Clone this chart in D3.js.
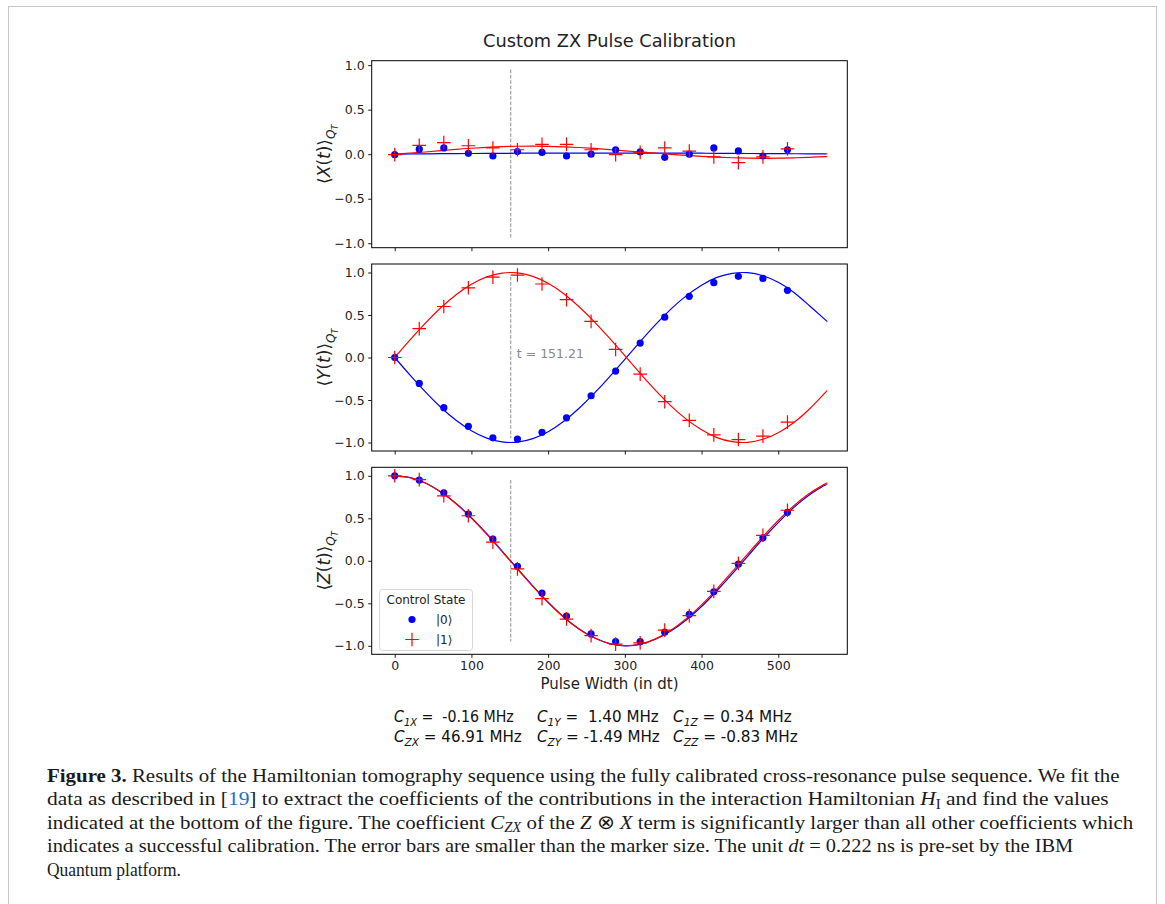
<!DOCTYPE html>
<html><head><meta charset="utf-8">
<script src="https://cdn.jsdelivr.net/npm/d3@7"></script>
<style>
html,body{margin:0;padding:0;background:#fff;}
svg{display:block;}
text{white-space:pre;}
</style></head>
<body>
<svg id="chart" width="1165" height="904"></svg>
<script>
// ---------------- data ----------------
const tPoints = [0,32,64,96,128,160,192,224,256,288,320,352,384,416,448,480,512];
const xBlue = [-0.005,0.056,0.07,0.01,-0.02,0.03,0.02,-0.02,0.0,0.05,0.025,-0.035,0.0,0.07,0.037,-0.02,0.05];
const xRed  = [-0.005,0.10,0.13,0.095,0.07,0.05,0.11,0.11,0.05,-0.005,0.02,0.07,0.035,-0.03,-0.095,-0.03,0.06];
const yBlue = [0.0,-0.305,-0.59,-0.81,-0.945,-0.96,-0.88,-0.71,-0.45,-0.16,0.17,0.475,0.72,0.88,0.955,0.93,0.79];
const yRed  = [0.0,0.34,0.60,0.82,0.945,0.97,0.865,0.68,0.425,0.095,-0.195,-0.52,-0.74,-0.91,-0.965,-0.925,-0.76];
const zBlue = [1.0,0.95,0.80,0.55,0.255,-0.065,-0.38,-0.65,-0.86,-0.95,-0.95,-0.84,-0.63,-0.365,-0.04,0.27,0.57];
const zRed  = [1.0,0.955,0.765,0.53,0.22,-0.095,-0.445,-0.685,-0.88,-0.98,-0.965,-0.815,-0.645,-0.36,-0.03,0.30,0.595];

const tFit = [0,20,40,60,80,100,120,140,160,180,200,220,240,260,280,300,320,340,360,380,400,420,440,460,480,500,520,540,560,563];
const xFitBlue = [0,0.002,0.004,0.006,0.007,0.008,0.009,0.010,0.011,0.012,0.012,0.013,0.013,0.013,0.013,0.013,0.013,0.012,0.012,0.011,0.011,0.010,0.009,0.008,0.007,0.006,0.005,0.004,0.003,0.003];
const xFitRed  = [0,0.012,0.025,0.040,0.055,0.067,0.077,0.085,0.089,0.090,0.088,0.083,0.075,0.065,0.052,0.038,0.025,0.012,-0.001,-0.013,-0.024,-0.033,-0.040,-0.044,-0.046,-0.045,-0.041,-0.035,-0.028,-0.027];
const yFitBlue = [0,-0.207,-0.404,-0.585,-0.739,-0.862,-0.948,-0.993,-0.996,-0.955,-0.873,-0.753,-0.600,-0.423,-0.227,-0.021,0.186,0.386,0.569,0.725,0.851,0.942,0.990,0.998,0.962,0.885,0.768,0.615,0.455,0.43];
const yFitRed  = [0,0.207,0.404,0.585,0.739,0.862,0.948,0.993,0.996,0.955,0.873,0.753,0.600,0.423,0.227,0.021,-0.186,-0.386,-0.569,-0.725,-0.851,-0.942,-0.990,-0.998,-0.962,-0.885,-0.768,-0.612,-0.425,-0.395];
const zFitBlue = [1,0.978,0.915,0.811,0.674,0.507,0.318,0.114,-0.093,-0.295,-0.488,-0.658,-0.800,-0.906,-0.974,-1.000,-0.983,-0.923,-0.826,-0.696,-0.538,-0.352,-0.153,0.052,0.258,0.450,0.625,0.772,0.885,0.900];
const zFitRed  = [1,0.978,0.915,0.810,0.672,0.503,0.313,0.108,-0.099,-0.300,-0.492,-0.661,-0.801,-0.906,-0.973,-0.999,-0.980,-0.918,-0.816,-0.680,-0.518,-0.330,-0.128,0.078,0.283,0.474,0.645,0.789,0.899,0.914];

const xTicks = [0,100,200,300,400,500];
const yTicks = [-1.0,-0.5,0.0,0.5,1.0];
const tMark = 151.21;
const panelLetters = ["X","Y","Z"];
const panelYLim = [[-1.05,1.05],[-1.1,1.1],[-1.1,1.1]];
const legendLabels = ["|0\u27E9","|1\u27E9"];
const coefNames = [["1X","1Y","1Z"],["ZX","ZY","ZZ"]];
const coefValues = [["=  -0.16 MHz","=  1.40 MHz","= 0.34 MHz"],["= 46.91 MHz","= -1.49 MHz","= -0.83 MHz"]];

// ---------------- layout ----------------
const svg = d3.select("#chart");
svg.append("rect").attr("x",0).attr("y",0).attr("width",1165).attr("height",904).attr("fill","#fff");
svg.append("rect").attr("x",8.5).attr("y",6.5).attr("width",1148).attr("height",920)
  .attr("fill","none").attr("stroke","#c8c8c8").attr("stroke-width",1);

const L = 371.7, R = 847.3, panelH = 187, panelTops = [60.7, 264.0, 467.3];
const FONT = "DejaVu Sans";
const x = d3.scaleLinear().domain([-30,590]).range([L,R]);

const panels = [
  {pts:[xBlue,xRed], fit:[xFitBlue,xFitRed]},
  {pts:[yBlue,yRed], fit:[yFitBlue,yFitRed]},
  {pts:[zBlue,zRed], fit:[zFitBlue,zFitRed]}
];
const colors = ["#0000ff","#ff0000"];

function rich(textSel, runs, base, subShift){
  const sh = subShift===undefined ? 0.28 : subShift;
  let off = 0;
  runs.forEach(r=>{
    const ts = textSel.append("tspan").text(r.t);
    let target = 0, size = base;
    if (r.sub===1){ target = base*sh; size = base*0.7; }
    if (r.sub===2){ target = base*(sh+0.17); size = base*0.5; }
    if (target!==off){ ts.attr("dy", target-off); off = target; }
    if (size!==base) ts.attr("font-size", size);
    if (r.i) ts.attr("font-style","italic");
    if (r.b) ts.attr("font-weight","bold");
    if (r.c) ts.attr("fill", r.c);
  });
}
function fitWidth(g, textNode, x0, x1, y0){
  const bw = textNode.getBBox().width;
  g.attr("transform",`translate(${x0},${y0}) scale(${(x1-x0)/bw},1)`);
}

panels.forEach((p,pi)=>{
  const top = panelTops[pi];
  const y = d3.scaleLinear().domain(panelYLim[pi]).range([top+panelH, top]);
  const g = svg.append("g");
  const clipId = "clip"+pi;
  svg.append("clipPath").attr("id",clipId).append("rect")
    .attr("x",L).attr("y",top).attr("width",R-L).attr("height",panelH);

  const yAxis = d3.axisLeft(y).tickValues(yTicks).tickSize(3.5).tickPadding(3.5)
    .tickFormat(d=>d3.format(".1f")(d).replace("-","\u2212"));
  const ya = g.append("g").attr("transform",`translate(${L},0)`).call(yAxis);
  const xAxis = d3.axisBottom(x).tickValues(xTicks).tickSize(3.5).tickPadding(3.5)
    .tickFormat(pi===2 ? d3.format("d") : ()=> "");
  const xa = g.append("g").attr("transform",`translate(0,${top+panelH})`).call(xAxis);
  [ya,xa].forEach(a=>{
    a.select(".domain").remove();
    a.selectAll("line").attr("stroke","#000").attr("stroke-width",0.9);
    a.selectAll("text").attr("font-family",FONT).attr("font-size",12.5).attr("fill","#222");
  });

  const plot = g.append("g").attr("clip-path",`url(#${clipId})`);
  plot.append("line").attr("x1",x(tMark)).attr("x2",x(tMark))
    .attr("y1",y(0.95)).attr("y2",y(-0.95))
    .attr("stroke","#999").attr("stroke-width",1.1).attr("stroke-dasharray","3.7,1.6");

  const line = d3.line().x((d,i)=>x(tFit[i])).y(d=>y(d)).curve(d3.curveNatural);
  p.fit.forEach((arr,si)=>{
    plot.append("path").attr("d",line(arr)).attr("fill","none")
      .attr("stroke",colors[si]).attr("stroke-width",1.2);
  });
  plot.selectAll(null).data(p.pts[0]).join("circle")
    .attr("cx",(d,i)=>x(tPoints[i])).attr("cy",d=>y(d)).attr("r",3.6).attr("fill",colors[0]);
  const s = 6.8;
  plot.selectAll(null).data(p.pts[1]).join("path")
    .attr("d",(d,i)=>{const cx=x(tPoints[i]), cy=y(d);
      return `M${cx-s},${cy}H${cx+s}M${cx},${cy-s}V${cy+s}`;})
    .attr("stroke",colors[1]).attr("stroke-width",1.2).attr("fill","none");

  g.append("rect").attr("x",L).attr("y",top).attr("width",R-L).attr("height",panelH)
    .attr("fill","none").attr("stroke","#000").attr("stroke-width",1);

  const yl = g.append("text").attr("transform",`translate(330,${top+panelH/2}) rotate(-90)`)
    .attr("text-anchor","middle").attr("font-family",FONT).attr("font-size",17).attr("fill","#222");
  rich(yl,[{t:"\u27E8"},{t:panelLetters[pi],i:true},{t:"("},{t:"t",i:true},{t:")\u27E9"},{t:"Q",i:true,sub:1},{t:"T",i:true,sub:2}],17);

  if (pi===1){
    plot.append("text").attr("x",x(tMark+8)).attr("y",y(0)).attr("font-family",FONT)
      .attr("font-size",12.5).attr("fill","#888").text("t = " + tMark.toFixed(2));
  }
  if (pi===2){
    const lg = g.append("g");
    lg.append("rect").attr("x",379.5).attr("y",589.5).attr("width",93).attr("height",61)
      .attr("rx",3).attr("fill","#fff").attr("fill-opacity",0.8).attr("stroke","#d6d6d6").attr("stroke-width",1);
    lg.append("text").attr("x",426).attr("y",604).attr("text-anchor","middle")
      .attr("font-family",FONT).attr("font-size",12).attr("fill","#222").text("Control State");
    lg.append("circle").attr("cx",412).attr("cy",619.5).attr("r",3.6).attr("fill",colors[0]);
    lg.append("path").attr("d",`M${412-s},639.5H${412+s}M412,${639.5-s}V${639.5+s}`)
      .attr("stroke",colors[1]).attr("stroke-width",1.2);
    legendLabels.forEach((lab,i)=>{
      lg.append("text").attr("x",436).attr("y",624+i*20).attr("font-family",FONT)
        .attr("font-size",12).attr("fill","#222").text(lab);
    });
  }
});

svg.append("text").attr("x",(L+R)/2).attr("y",47).attr("text-anchor","middle")
  .attr("font-family",FONT).attr("font-size",17.8).attr("fill","#222").text("Custom ZX Pulse Calibration");
svg.append("text").attr("x",(L+R)/2).attr("y",689).attr("text-anchor","middle")
  .attr("font-family",FONT).attr("font-size",15).attr("fill","#222").text("Pulse Width (in dt)");

// coefficient lines
const coefSpans = [[[394,514],[537,659],[673,792]],[[394,522],[537,660],[673,798]]];
coefNames.forEach((row,ri)=>{
  row.forEach((nm,ci)=>{
    const gg = svg.append("g");
    const t = gg.append("text").attr("x",0).attr("y",0)
      .attr("font-family",FONT).attr("font-size",15).attr("fill","#111");
    rich(t,[{t:"C",i:true},{t:nm,i:true,sub:1},{t:" "+coefValues[ri][ci]}],15);
    fitWidth(gg, t.node(), coefSpans[ri][ci][0], coefSpans[ri][ci][1], 722+ri*20);
  });
});

// caption
const blue = "#1a75c2";
const capLines = [
  {w:1120, runs:[{t:"Figure 3.",b:true},{t:" Results of the Hamiltonian tomography sequence using the fully calibrated cross-resonance pulse sequence. We fit the"}]},
  {w:1109, runs:[{t:"data as described in ["},{t:"19",c:blue},{t:"] to extract the coefficients of the contributions in the interaction Hamiltonian "},{t:"H",i:true},{t:"I",sub:1},{t:" and find the values"}]},
  {w:1135, runs:[{t:"indicated at the bottom of the figure. The coefficient "},{t:"C",i:true},{t:"ZX",i:true,sub:1},{t:" of the "},{t:"Z",i:true},{t:" \u2297 "},{t:"X",i:true},{t:" term is significantly larger than all other coefficients which"}]},
  {w:1074, runs:[{t:"indicates a successful calibration. The error bars are smaller than the marker size. The unit "},{t:"dt",i:true},{t:" = 0.222 ns is pre-set by the IBM"}]},
  {w:181, runs:[{t:"Quantum platform."}]}
];
const capX = 47;
capLines.forEach((ln,i)=>{
  const base = 781.5 + i*23.6;
  const g = svg.append("g");
  const t = g.append("text").attr("x",0).attr("y",0).attr("font-family","Liberation Serif")
    .attr("font-size",19.5).attr("fill","#1a1a1a");
  rich(t, ln.runs, 19.5, 0.18);
  fitWidth(g, t.node(), capX, ln.w, base);
});
</script>
</body></html>
